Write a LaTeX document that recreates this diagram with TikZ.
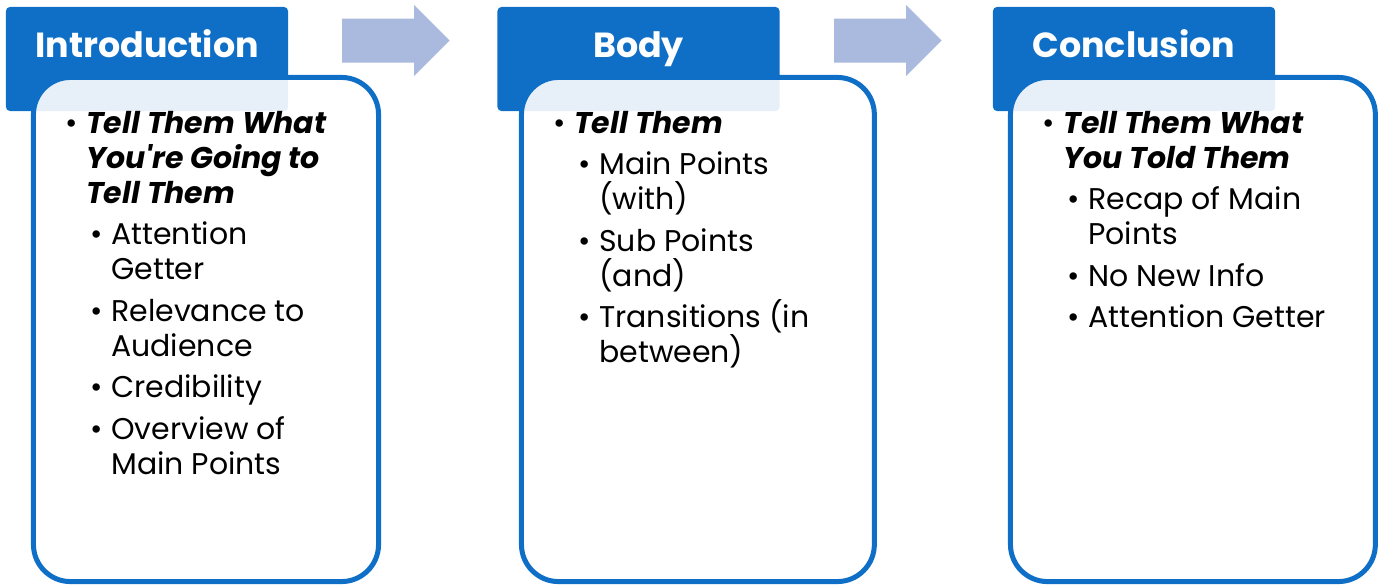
\documentclass[tikz,border=0pt]{standalone}
\usepackage{fontspec}
\setmainfont{Poppins}
\usetikzlibrary{positioning}
\definecolor{Accent}{RGB}{15,111,198}
\definecolor{ArrowBlue}{RGB}{170,185,222}
\newcommand{\bul}{\llap{\textbullet\hspace{6pt}}}
\newcommand{\ind}{\hspace*{17.8pt}}
\newcommand{\bi}[1]{\textbf{\textit{#1}}}
\newcommand{\itemgap}{4.6pt}

\begin{document}
\begin{tikzpicture}[x=0.025cm,y=-0.025cm,
    hdr/.style={rectangle,rounded corners=0.1cm,fill=Accent,minimum width=7.05cm,minimum height=2.6cm,inner sep=0},
    title/.style={anchor=base,text=white,inner sep=0,font=\fontsize{24.8}{30}\selectfont\bfseries},
    card/.style={rectangle,rounded corners=0.925cm,draw=Accent,line width=0.125cm,fill=white,fill opacity=0.9,minimum height=12.6cm,inner sep=0},
    pts/.style={anchor=base west,align=left,inner sep=0,font=\fontsize{21.3}{24.9}\selectfont},
    flowarrow/.style={fill=ArrowBlue}
]
\useasboundingbox (0,0) rectangle (1378,585);

% headers
\node[hdr] (intro-hd) at (147,59) {};
\node[hdr] (body-hd) at (638.5,59) {};
\node[hdr] (concl-hd) at (1134,59) {};
\node[title] (intro-title) at (147,57) {Introduction};
\node[title] (body-title) at (638.5,57) {Body};
\node[title] (concl-title) at (1134,57) {Conclusion};

% cards
\node[card,minimum width=8.625cm] (intro-card) at (206,329.5) {};
\node[card,minimum width=8.82cm] (body-card) at (697.9,329.5) {};
\node[card,minimum width=9.12cm] (concl-card) at (1192.9,329.5) {};

% block arrows
\fill[flowarrow] (342,18.5) -- (414,18.5) -- (414,5) -- (449.5,40.5) -- (414,76) -- (414,62.5) -- (342,62.5) -- cycle;
\fill[flowarrow] (834,18.5) -- (906,18.5) -- (906,5) -- (941.5,40.5) -- (906,76) -- (906,62.5) -- (834,62.5) -- cycle;

% bullet text (base = last line)
\node[pts] (intro-pts) at (86,474.3) {%
\bul\bi{Tell Them What}\\
\bi{You\textquotesingle re Going to}\\
\bi{Tell Them}\\[\itemgap]
\ind\bul Attention\\
\ind Getter\\[\itemgap]
\ind\bul Relevance to\\
\ind Audience\\[\itemgap]
\ind\bul Credibility\\[\itemgap]
\ind\bul Overview of\\
\ind Main Points};

\node[pts] (body-pts) at (574,362.8) {%
\bul\bi{Tell Them}\\[\itemgap]
\ind\bul Main Points\\
\ind (with)\\[\itemgap]
\ind\bul Sub Points\\
\ind (and)\\[\itemgap]
\ind\bul Transitions (in\\
\ind between)};

\node[pts] (concl-pts) at (1063,327.8) {%
\bul\bi{Tell Them What}\\
\bi{You Told Them}\\[\itemgap]
\ind\bul Recap of Main\\
\ind Points\\[\itemgap]
\ind\bul No New Info\\[\itemgap]
\ind\bul Attention Getter};

\end{tikzpicture}
\end{document}
